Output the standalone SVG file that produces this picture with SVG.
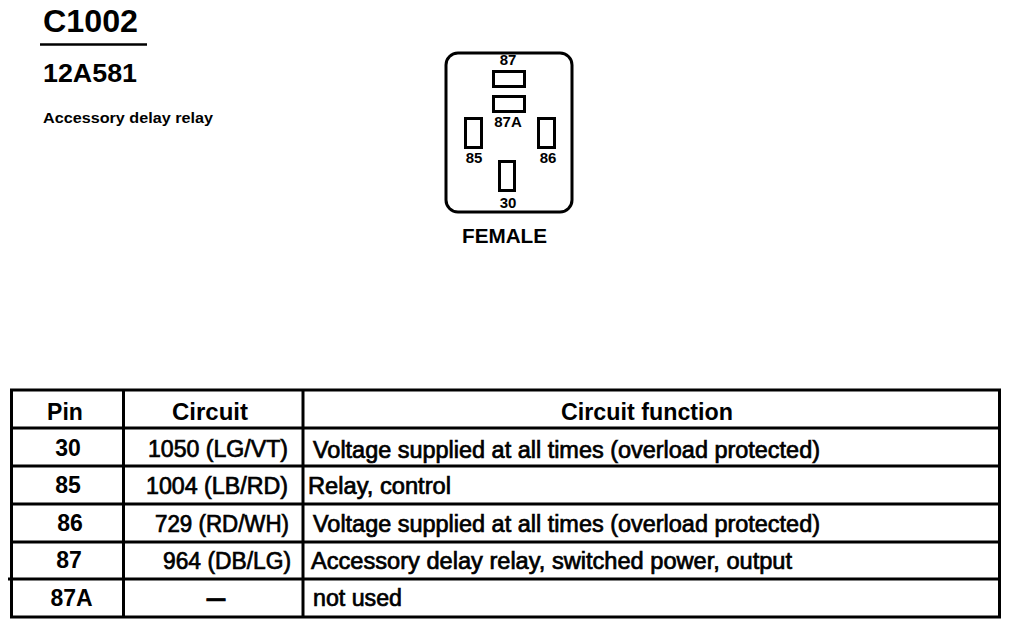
<svg xmlns="http://www.w3.org/2000/svg" width="1011" height="627" viewBox="0 0 1011 627">
<style>
text{font-family:"Liberation Sans",Arial,sans-serif;fill:#000}
.b{font-weight:bold}
.body{font-size:23px;stroke:#000;stroke-width:0.7}
.hdr{font-size:23px;font-weight:bold}
.pin{font-size:15px;font-weight:bold}
.ln{stroke:#000;stroke-width:3;fill:none}
.slot{fill:#fff;stroke:#000;stroke-width:3}
</style>
<rect width="1011" height="627" fill="#fff"/>
<g id="title">
<text x="43" y="32" class="b" font-size="32" textLength="95" lengthAdjust="spacingAndGlyphs">C1002</text>
<line x1="40" y1="44.5" x2="147" y2="44.5" stroke="#000" stroke-width="2.5"/>
<text x="43" y="82" class="b" font-size="26" textLength="94" lengthAdjust="spacingAndGlyphs">12A581</text>
<text x="43" y="123" class="b" font-size="15" textLength="170" lengthAdjust="spacingAndGlyphs">Accessory delay relay</text>
</g>
<g id="connector">
<rect x="446" y="53" width="126" height="159" rx="12" ry="12" class="ln"/>
<rect id="pin87" x="493.5" y="71.5" width="31" height="15" class="slot"/>
<rect id="pin87A" x="493.5" y="96.5" width="31" height="15" class="slot"/>
<rect id="pin85" x="465.5" y="118.5" width="16" height="29" class="slot"/>
<rect id="pin86" x="538.5" y="118.5" width="16" height="29" class="slot"/>
<rect id="pin30" x="499.5" y="161.5" width="15" height="29" class="slot"/>
<text x="508" y="65" class="pin" text-anchor="middle">87</text>
<text x="508" y="127" class="pin" text-anchor="middle">87A</text>
<text x="474" y="163" class="pin" text-anchor="middle">85</text>
<text x="548" y="163" class="pin" text-anchor="middle">86</text>
<text x="508" y="208" class="pin" text-anchor="middle">30</text>
<text x="504.5" y="243" class="b" font-size="20" text-anchor="middle" textLength="85" lengthAdjust="spacingAndGlyphs">FEMALE</text>
</g>
<g id="table">
<rect x="11.5" y="390" width="988" height="227" class="ln"/>
<line x1="123.5" y1="390" x2="123.5" y2="617" class="ln"/>
<line x1="303" y1="390" x2="303" y2="617" class="ln"/>
<line x1="11.5" y1="428" x2="999.5" y2="428" class="ln"/>
<line x1="11.5" y1="466" x2="999.5" y2="466" class="ln"/>
<line x1="11.5" y1="504" x2="999.5" y2="504" class="ln"/>
<line x1="11.5" y1="542" x2="999.5" y2="542" class="ln"/>
<line x1="8" y1="579" x2="999.5" y2="579" class="ln"/>
<text x="65" y="420" class="hdr" text-anchor="middle">Pin</text>
<text x="210" y="420" class="hdr" text-anchor="middle" textLength="76" lengthAdjust="spacingAndGlyphs">Circuit</text>
<text x="647" y="420" class="hdr" text-anchor="middle" textLength="172" lengthAdjust="spacingAndGlyphs">Circuit function</text>
<g class="hdr">
<text x="68" y="456" text-anchor="middle">30</text>
<text x="68" y="493" text-anchor="middle">85</text>
<text x="70" y="531" text-anchor="middle">86</text>
<text x="69" y="568" text-anchor="middle">87</text>
<text x="71.5" y="606" text-anchor="middle">87A</text>
</g>
<g class="body">
<text x="288" y="457" text-anchor="end" textLength="140" lengthAdjust="spacingAndGlyphs">1050 (LG/VT)</text>
<text x="288" y="494" text-anchor="end" textLength="142" lengthAdjust="spacingAndGlyphs">1004 (LB/RD)</text>
<text x="289" y="532" text-anchor="end" textLength="134" lengthAdjust="spacingAndGlyphs">729 (RD/WH)</text>
<text x="291" y="569" text-anchor="end" textLength="128" lengthAdjust="spacingAndGlyphs">964 (DB/LG)</text>
<text transform="translate(216,606) scale(1.6,1)" x="0" y="0" text-anchor="middle" font-weight="bold">–</text>
<text x="313" y="458" textLength="507" lengthAdjust="spacingAndGlyphs">Voltage supplied at all times (overload protected)</text>
<text x="308" y="494" textLength="143" lengthAdjust="spacingAndGlyphs">Relay, control</text>
<text x="313" y="532" textLength="507" lengthAdjust="spacingAndGlyphs">Voltage supplied at all times (overload protected)</text>
<text x="311" y="569" textLength="481" lengthAdjust="spacingAndGlyphs">Accessory delay relay, switched power, output</text>
<text x="313" y="606" textLength="89" lengthAdjust="spacingAndGlyphs">not used</text>
</g>
</g>
</svg>
